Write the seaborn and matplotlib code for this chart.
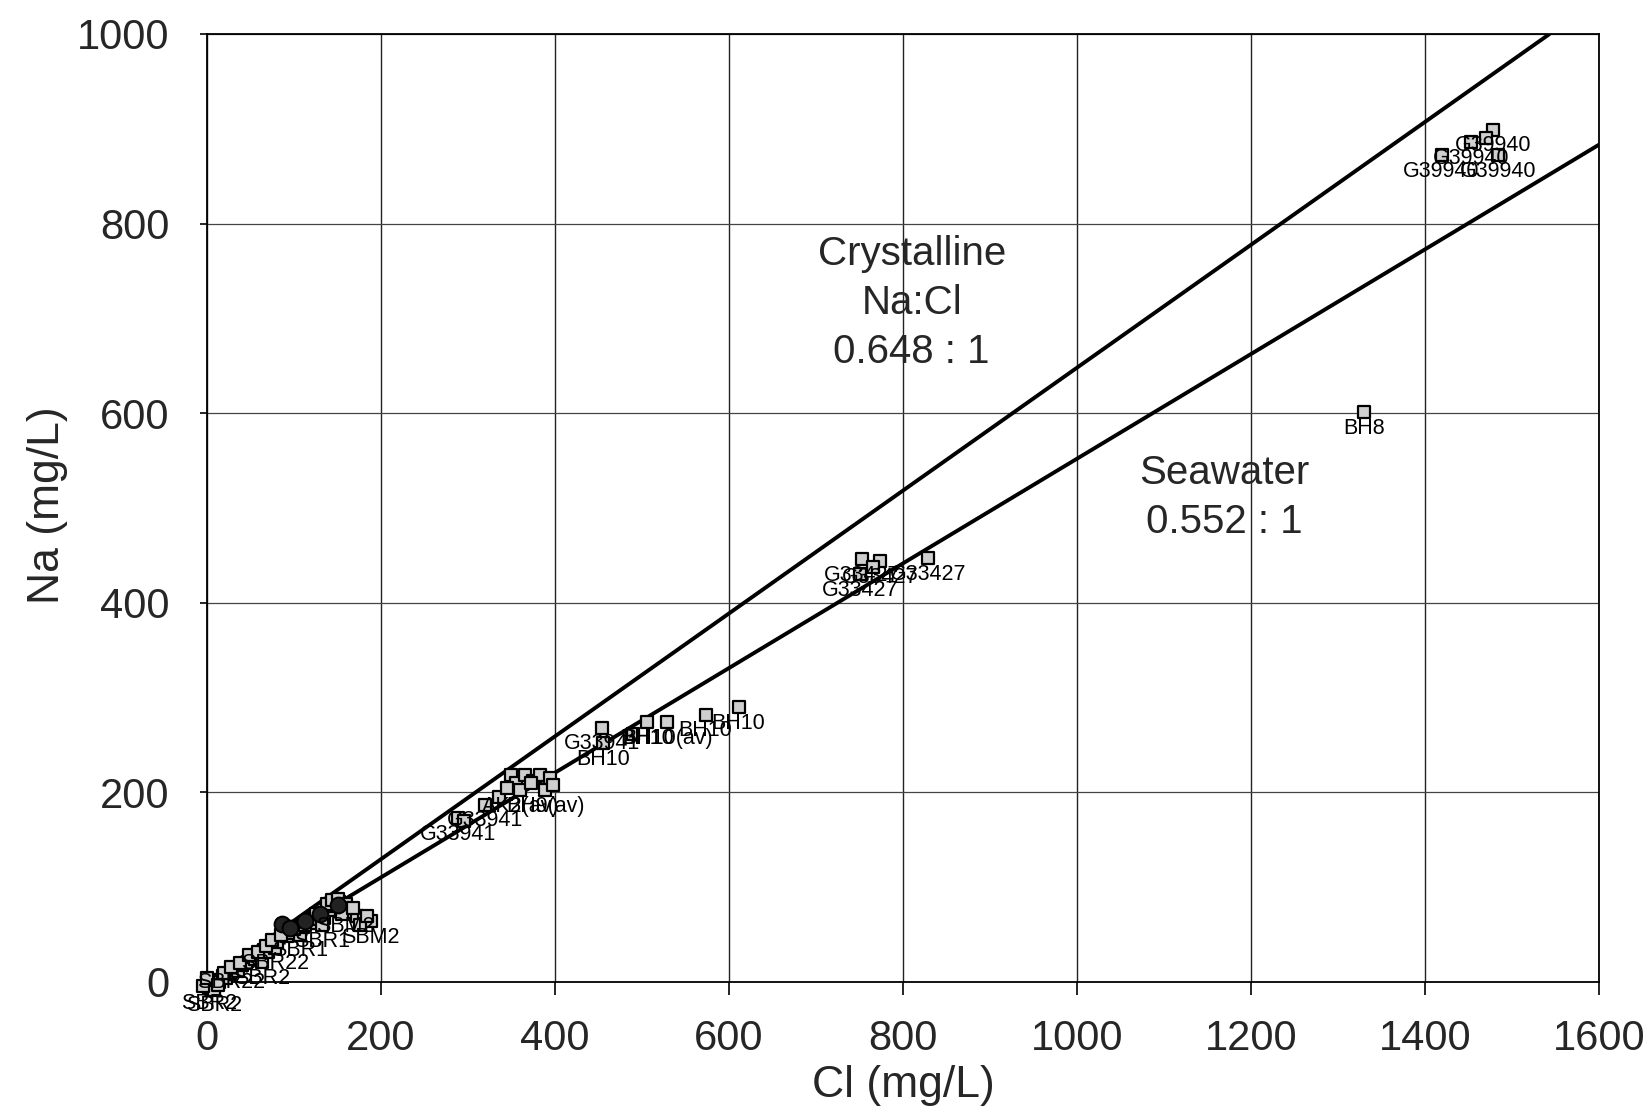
import matplotlib
matplotlib.use("Agg")
import matplotlib.pyplot as plt
import seaborn as sns
import numpy as np
import pandas as pd

sns.set_theme(style="white")
plt.rcParams['font.family'] = ['Liberation Sans', 'DejaVu Sans']

# ---------------- data ----------------
cl = [1478, 1453, 1419, 1484, 1470,
      1330,
      753, 774, 829, 751, 765,
      454, 455, 506, 529, 573, 611, 490,
      288, 295, 320, 335, 349, 355, 366, 375, 383, 394, 360, 389, 372, 345, 398,
      2, 5, 8, 10, 14, 18, 22, 26, 30, 35, 40, 45, 50, 55, 63, 65, 70, 78, 80,
      92, 98, 107, 110, 116, 122, 128, 134, 140, 146, 152, 159, 165, 172, 180, 188,
      -5, 0, 12, 20, 28, 38, 48, 58, 68, 75, 85, 100, 112, 118, 125, 132, 138, 144,
      150, 155, 160, 168, 176, 184]
na = [899, 886, 872, 872, 890,
      601,
      446, 444, 447, 430, 438,
      268, 252, 274, 274, 282, 290, 262,
      173, 170, 187, 195, 218, 210, 218, 212, 218, 215, 202, 202, 210, 205, 208,
      -6, -2, -8, 2, 0, 6, 4, 10, 14, 12, 18, 20, 26, 24, 21, 34, 32, 36, 42,
      48, 52, 50, 58, 64, 62, 70, 68, 76, 80, 84, 76, 74, 70, 66, 64,
      -4, 4, -3, 10, 16, 20, 28, 32, 38, 44, 50, 56, 60, 66, 72, 60, 82, 86,
      88, 72, 82, 78, 60, 70]
labels = ["G39940", "G39940", "G39940", "G39940", "",
          "BH8",
          "G33427", "G33427", "G33427", "G33427", "",
          "G33941", "BH10", "BH10", "BH10(av)", "BH10", "BH10", "",
          "G33941", "", "G33941", "", "", "", "", "", "", "", "AK2(av)", "BH9(av)", "", "", "",
          "SBR2", "", "SBR2", "", "", "", "", "", "", "", "", "", "", "", "SBR2", "", "", "SBR22", "",
          "", "", "SBR1", "", "", "", "", "", "", "", "", "SBM2", "", "", "", "SBM2",
          "", "", "", "", "SBR22", "", "", "", "", "", "", "", "", "", "", "SBR1", "", "",
          "", "", "", "", "", ""]

circ_cl = [86, 150, 95, 130, 112]
circ_na = [61, 81, 57, 72, 64]

ratio_names = ["Crystalline", "Seawater"]
ratio_values = [0.648, 0.552]
ratio_x_start = [20, 20]
ratio_x_end = [1543, 1600]

x_ticks = [0, 200, 400, 600, 800, 1000, 1200, 1400, 1600]
y_ticks = [0, 200, 400, 600, 800, 1000]

df = pd.DataFrame({"Cl": cl, "Na": na, "label": labels})
dfc = pd.DataFrame({"Cl": circ_cl, "Na": circ_na})

rows = []
for name, r, x0, x1 in zip(ratio_names, ratio_values, ratio_x_start, ratio_x_end):
    rows.append({"name": name, "Cl": x0, "Na": r * x0})
    rows.append({"name": name, "Cl": x1, "Na": r * x1})
dfl = pd.DataFrame(rows)

# ---------------- figure ----------------
fig = plt.figure(figsize=(16.5, 11.13), dpi=100)
ax = fig.add_axes([0.1255, 0.1177, 0.8436, 0.8518])

ax.set_xlim(0, 1600)
ax.set_ylim(0, 1000)
ax.set_xticks(x_ticks)
ax.set_yticks(y_ticks)
ax.grid(True, axis="x", color="#222222", linewidth=1.0)
ax.grid(True, axis="y", color="#444444", linewidth=0.9)
ax.set_axisbelow(True)

sns.lineplot(data=dfl, x="Cl", y="Na", units="name", estimator=None,
             color="black", linewidth=2.8, ax=ax, legend=False)

sns.scatterplot(data=df, x="Cl", y="Na", marker="s", s=78,
                facecolor="#cfcfcf", edgecolor="black", linewidth=1.6,
                ax=ax, legend=False, zorder=4)
sns.scatterplot(data=dfc, x="Cl", y="Na", marker="o", s=130,
                facecolor="#222222", edgecolor="black", linewidth=1.4,
                ax=ax, legend=False, zorder=4)
for coll in ax.collections:
    coll.set_clip_on(False)

for xv, yv, lab in zip(cl, na, labels):
    if lab:
        ax.annotate(lab, (xv, yv), xytext=(0, -4), textcoords="offset points",
                    ha="center", va="top", fontsize=15.5, color="black",
                    zorder=5, annotation_clip=False)

ax.text(810, 768, "Crystalline", ha="center", va="center", fontsize=29)
ax.text(810, 716, "Na:Cl", ha="center", va="center", fontsize=29)
ax.text(810, 665, "0.648 : 1", ha="center", va="center", fontsize=29)
ax.text(1169, 537, "Seawater", ha="center", va="center", fontsize=29)
ax.text(1169, 485, "0.552 : 1", ha="center", va="center", fontsize=29)

for s in ax.spines.values():
    s.set_color("black")
    s.set_linewidth(1.3)

ax.tick_params(axis="x", which="both", direction="out", length=9, width=1.2,
               color="black", labelsize=30, pad=18, bottom=True)
ax.tick_params(axis="y", which="both", direction="out", length=5, width=1.2,
               color="black", labelsize=30, pad=22, left=True)
ax.set_xticklabels([str(v) for v in x_ticks])
ax.set_yticklabels([str(v) for v in y_ticks])

ax.set_xlabel("Cl (mg/L)", fontsize=32)
ax.set_ylabel("Na (mg/L)", fontsize=32)
ax.xaxis.set_label_coords(0.5, -0.088)
ax.yaxis.set_label_coords(-0.1, 0.503)

fig.savefig("out.png", dpi=100, facecolor="white")
